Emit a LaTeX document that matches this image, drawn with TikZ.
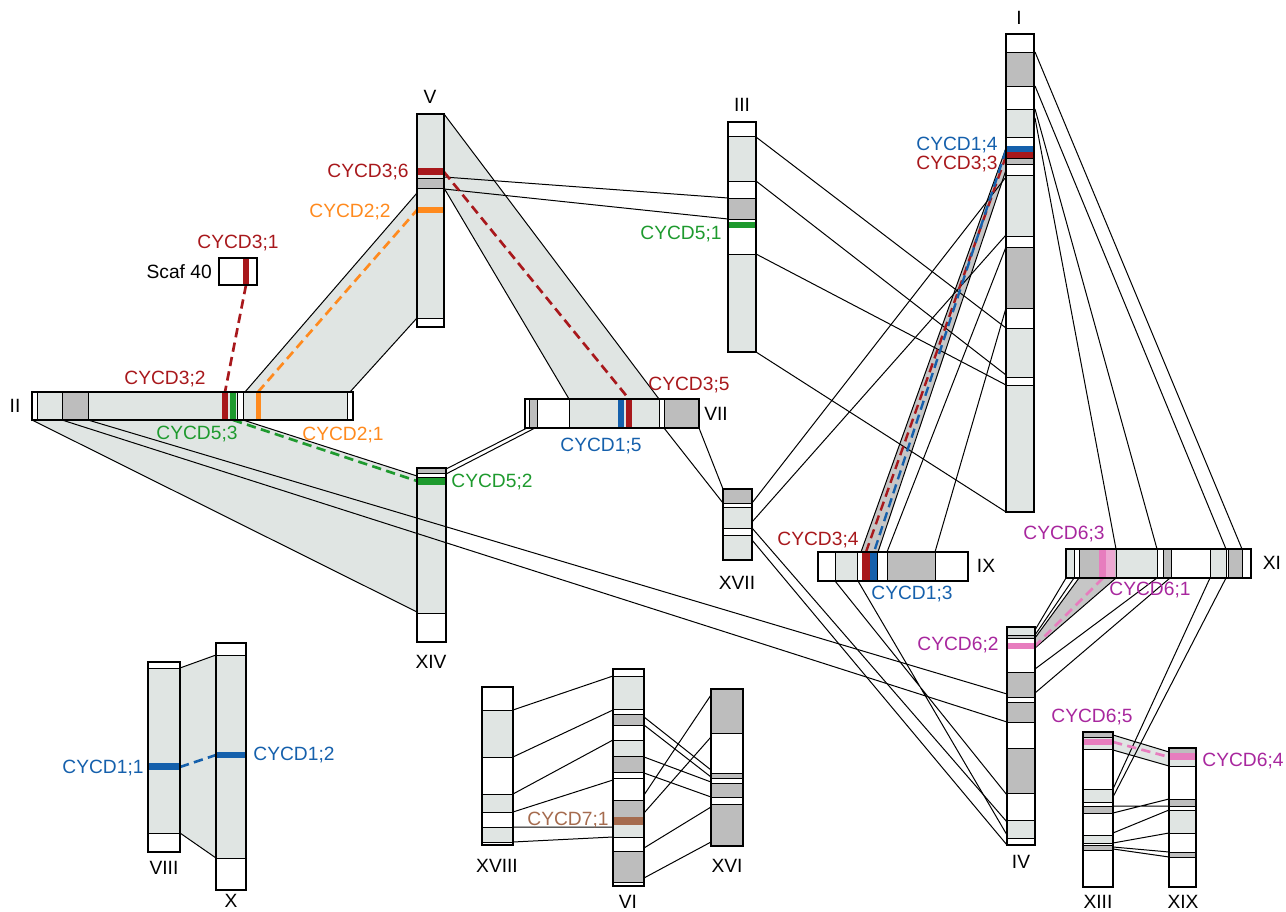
\documentclass[tikz,border=0pt]{standalone}
\usepackage{fontspec}
\setmainfont{Liberation Sans}
\definecolor{lt}{HTML}{E0E5E3}
\definecolor{dk}{HTML}{BDBDBD}
\definecolor{sh}{HTML}{C6C6C6}
\definecolor{cred}{HTML}{A8181C}
\definecolor{cblue}{HTML}{1560AC}
\definecolor{cgreen}{HTML}{1E9A2E}
\definecolor{corange}{HTML}{FF8A1E}
\definecolor{cmag}{HTML}{A8279E}
\definecolor{cpink}{HTML}{E77DBE}
\definecolor{clpink}{HTML}{EDA8D2}
\definecolor{cbrown}{HTML}{A56B4E}
% vertical / horizontal chromosome bands: lo/hi/colour
\newcommand\vchr[3]{\foreach \a/\b/\c in {#3}{\filldraw[bandline,fill=\c] (#1,\a) rectangle (#2,\b);}}
\newcommand\hchr[3]{\foreach \a/\b/\c in {#3}{\filldraw[bandline,fill=\c] (\a,#1) rectangle (\b,#2);}}
\begin{document}
\begin{tikzpicture}[x=0.75pt,y=-0.75pt,
  bandline/.style={draw=black,line width=0.6pt},
  chrline/.style={draw=black,line width=2.1pt},
  link/.style={draw=black,line width=0.75pt},
  block/.style={fill=lt,draw=none},
  block2/.style={fill=sh,draw=none},
  gene/.style={line width=2pt,dash pattern=on 7pt off 4pt},
  lab/.style={font=\fontsize{14.4}{16}\selectfont,inner sep=0pt},
]
\useasboundingbox (0,0) rectangle (1286,912);

% ---------- syntenic blocks ----------
\fill[block] (245,392) -- (350,392) -- (417,318) -- (417,193) -- cycle;
\draw[link] (245,392) -- (417,193) (350,392) -- (417,318);
\fill[block] (444,114) -- (659,399) -- (569,399) -- (444,188) -- cycle;
\draw[link] (444,114) -- (659,399) (444,188) -- (569,399);
\fill[block] (32,420) -- (243,420) -- (417,476) -- (417,612) -- cycle;
\draw[link] (243,420) -- (417,476) (32,420) -- (417,612);
\fill[block] (180,668) -- (216,655) -- (216,858) -- (180,833) -- cycle;
\draw[link] (180,668) -- (216,655) (180,833) -- (216,858);
\fill[block] (1113,735) -- (1169,752) -- (1169,766) -- (1113,750) -- cycle;
\draw[link] (1113,735) -- (1169,752) (1113,750) -- (1169,766);
\fill[block2] (1006,148) -- (1006,170) -- (878,552) -- (861,552) -- cycle;
\draw[link] (1006,148) -- (861,552) (1006,170) -- (878,552);
\fill[block2] (1079,578) -- (1116,578) -- (1035,648) -- (1035,638) -- cycle;
\draw[link] (1079,578) -- (1035,638) (1116,578) -- (1035,648);

% ---------- single links ----------
\draw[link] (444,177) -- (728,198) (444,189) -- (728,219);
\draw[link] (446,469) -- (527,428) (446,474) -- (535,428);
\draw[link] (664,428) -- (723,503) (699,428) -- (723,489);
\draw[link] (756,137) -- (1006,328) (756,181) -- (1006,375)
            (756,254) -- (1006,385) (756,352) -- (1006,512);
\draw[link] (752,503) -- (1006,177) (752,522) -- (1006,235);
\draw[link] (887,552) -- (1006,247) (935,552) -- (1006,308);
\draw[link] (752,528) -- (1007,822) (752,540) -- (1007,845);
\draw[link] (835,581) -- (1007,795) (858,581) -- (1007,835);
\draw[link] (1035,52) -- (1242,549) (1035,86) -- (1226,549)
            (1035,109) -- (1157,549) (1035,118) -- (1116,549);
\draw[link] (1066,578) -- (1035,630) (1074,578) -- (1035,635)
            (1157,578) -- (1035,669) (1170,578) -- (1035,693);
\draw[link] (1210,578) -- (1113,789) (1226,578) -- (1113,797);
\draw[link] (1113,806) -- (1169,806) (1113,813) -- (1169,799)
            (1113,833) -- (1169,810) (1113,843) -- (1169,833)
            (1113,847) -- (1169,852) (1113,849) -- (1169,857);
\draw[link] (513,710) -- (613,676) (513,757) -- (613,710)
            (513,794) -- (613,740) (513,812) -- (613,780)
            (513,827) -- (613,827) (513,842) -- (613,837);
\draw[link] (644,717) -- (711,770) (644,725) -- (711,777)
            (644,757) -- (711,782) (644,773) -- (711,797)
            (644,795) -- (711,695) (644,813) -- (711,737)
            (644,848) -- (711,807) (644,878) -- (711,842);

% ---------- paralogous gene pairs ----------
\draw[gene,cred] (246,285) -- (225,392);
\draw[gene,corange] (258,392) -- (417,210);
\draw[gene,cgreen] (233,420) -- (417,481);
\draw[gene,cred] (444,172) -- (629,399);
\draw[gene,cred,line width=1.8pt] (1006,156) -- (866,552);
\draw[gene,cblue,line width=1.8pt] (1006,150) -- (874,552);
\draw[gene,cpink] (1103,578) -- (1035,646);
\draw[gene,cpink] (1113,742) -- (1169,757);
\draw[gene,cblue] (180,767) -- (216,755);

% ---------- chromosomes ----------
% I
\vchr{1006}{1034}{34/52/white,52/86/dk,86/109/white,109/137/lt,137/158/white,158/164/dk,164/175/white,175/236/lt,236/247/white,247/308/dk,308/328/white,328/377/lt,377/385/white,385/512/lt}
\fill[cblue] (1006,146) rectangle (1034,152);
\fill[cred] (1006,152) rectangle (1034,158);
\draw[chrline] (1006,34) rectangle (1034,512);
% V
\vchr{417}{444}{114/178/lt,178/188/dk,188/318/lt,318/327/white}
\fill[cred] (417,168) rectangle (444,175);
\fill[corange] (417,207) rectangle (444,213);
\draw[chrline] (417,114) rectangle (444,327);
% III
\vchr{728}{756}{122/136/white,136/181/lt,181/198/white,198/219/dk,219/254/white,254/352/lt}
\fill[cgreen] (728,222) rectangle (756,228);
\draw[chrline] (728,122) rectangle (756,352);
% VII
\hchr{399}{428}{525/529/white,529/537/dk,537/569/white,569/659/lt,659/664/white,664/699/dk}
\fill[cblue] (618,399) rectangle (624,428);
\fill[cred] (626,399) rectangle (632,428);
\draw[chrline] (525,399) rectangle (699,428);
% II
\hchr{392}{420}{32/37/white,37/62/lt,62/88/dk,88/237/lt,237/243/white,243/347/lt,347/353/white}
\fill[cred] (222,392) rectangle (228,420);
\fill[cgreen] (230,392) rectangle (236,420);
\fill[corange] (256,392) rectangle (261,420);
\draw[chrline] (32,392) rectangle (353,420);
% Scaffold 40
\fill[white] (219,258) rectangle (257,285);
\fill[cred] (243,258) rectangle (249,285);
\draw[chrline] (219,258) rectangle (257,285);
% XIV
\vchr{417}{446}{468/473/dk,473/477/white,477/613/lt,613/642/white}
\fill[cgreen] (417,478) rectangle (446,485);
\draw[chrline] (417,468) rectangle (446,642);
% XVII
\vchr{723}{752}{489/503/dk,503/507/white,507/528/lt,528/535/white,535/560/lt}
\draw[chrline] (723,489) rectangle (752,560);
% IX
\hchr{552}{581}{818/835/white,835/857/lt,857/862/white,862/877/lt,877/887/white,887/935/dk,935/968/white}
\fill[cred] (862,552) rectangle (870,581);
\fill[cblue] (870,552) rectangle (877,581);
\draw[chrline] (818,552) rectangle (968,581);
% XI
\hchr{549}{578}{1066/1074/lt,1074/1079/white,1079/1116/dk,1116/1157/lt,1157/1163/white,1163/1171/dk,1171/1210/white,1210/1226/lt,1226/1228/white,1228/1242/dk,1242/1251/white}
\fill[cpink] (1099,549) rectangle (1106,578);
\fill[clpink] (1106,549) rectangle (1115,578);
\draw[chrline] (1066,549) rectangle (1251,578);
% IV
\vchr{1007}{1035}{627/635/lt,635/638/dk,638/648/white,648/672/white,672/697/dk,697/702/white,702/722/dk,722/748/white,748/793/dk,793/820/white,820/838/lt,838/845/white}
\fill[cpink] (1007,643) rectangle (1035,649);
\draw[chrline] (1007,627) rectangle (1035,845);
% XIII
\vchr{1083}{1113}{732/737/dk,737/749/lt,749/789/white,789/802/lt,802/806/white,806/813/dk,813/835/white,835/843/lt,843/845/white,845/850/dk,850/887/white}
\fill[cpink] (1083,739) rectangle (1113,745);
\draw[chrline] (1083,732) rectangle (1113,887);
% XIX
\vchr{1169}{1196}{748/753/dk,753/766/lt,766/799/white,799/806/dk,806/810/white,810/833/lt,833/852/white,852/857/dk,857/887/white}
\fill[cpink] (1169,753) rectangle (1196,760);
\draw[chrline] (1169,748) rectangle (1196,887);
% XVIII
\vchr{482}{513}{687/710/white,710/757/lt,757/794/white,794/812/lt,812/827/white,827/842/lt,842/845/white}
\draw[chrline] (482,687) rectangle (513,845);
% VI
\vchr{613}{644}{669/676/white,676/709/lt,709/714/white,714/725/dk,725/740/white,740/756/lt,756/772/dk,772/778/white,778/800/white,800/817/dk,817/837/lt,837/851/white,851/882/dk,882/886/white}
\fill[cbrown] (613,817) rectangle (644,825);
\draw[chrline] (613,669) rectangle (644,886);
% XVI
\vchr{711}{743}{689/733/dk,733/773/white,773/778/dk,778/783/white,783/797/dk,797/804/white,804/846/dk}
\draw[chrline] (711,689) rectangle (743,846);
% VIII
\vchr{148}{180}{662/668/white,668/833/lt,833/852/white}
\fill[cblue] (148,763) rectangle (180,770);
\draw[chrline] (148,662) rectangle (180,852);
% X
\vchr{216}{246}{643/655/white,655/858/lt,858/890/white}
\fill[cblue] (216,752) rectangle (246,758);
\draw[chrline] (216,643) rectangle (246,890);

% links from II to IV run across XIV
\draw[link] (88,420) -- (1007,694) (62,420) -- (1007,722);

% ---------- chromosome names ----------
\node[lab] (nI) at (1019,18) {I};
\node[lab] (nII) at (15,406) {II};
\node[lab] (nIII) at (742,105) {III};
\node[lab] (nIV) at (1021,862) {IV};
\node[lab] (nV) at (430,97) {V};
\node[lab] (nVI) at (628,902) {VI};
\node[lab] (nVII) at (716,414) {VII};
\node[lab] (nVIII) at (164,868) {VIII};
\node[lab] (nIX) at (986,566) {IX};
\node[lab] (nX) at (231,901) {X};
\node[lab] (nXI) at (1272,563) {XI};
\node[lab] (nXIII) at (1098,902) {XIII};
\node[lab] (nXIV) at (431,662) {XIV};
\node[lab] (nXVI) at (727,866) {XVI};
\node[lab] (nXVII) at (737,583) {XVII};
\node[lab] (nXVIII) at (497,866) {XVIII};
\node[lab] (nXIX) at (1183,902) {XIX};
\node[lab,anchor=east] (nScaf) at (212,272) {Scaf 40};

% ---------- gene names ----------
\node[lab,cred] (g31) at (238,243) {CYCD3;1};
\node[lab,cred] (g32) at (165,379) {CYCD3;2};
\node[lab,cred] (g33) at (957,164.5) {CYCD3;3};
\node[lab,cred] (g34) at (818,540) {CYCD3;4};
\node[lab,cred] (g35) at (689,385) {CYCD3;5};
\node[lab,cred] (g36) at (368,172) {CYCD3;6};
\node[lab,cgreen] (g51) at (681,234) {CYCD5;1};
\node[lab,cgreen] (g52) at (492,482) {CYCD5;2};
\node[lab,cgreen] (g53) at (197,434) {CYCD5;3};
\node[lab,corange] (g21) at (343,435) {CYCD2;1};
\node[lab,corange] (g22) at (350,212) {CYCD2;2};
\node[lab,cblue] (g11) at (103,768) {CYCD1;1};
\node[lab,cblue] (g12) at (294,755) {CYCD1;2};
\node[lab,cblue] (g13) at (912,594) {CYCD1;3};
\node[lab,cblue] (g14) at (957,145.5) {CYCD1;4};
\node[lab,cblue] (g15) at (601,446) {CYCD1;5};
\node[lab,cmag] (g61) at (1150,590) {CYCD6;1};
\node[lab,cmag] (g62) at (958,645) {CYCD6;2};
\node[lab,cmag] (g63) at (1064,534) {CYCD6;3};
\node[lab,cmag] (g64) at (1243,761) {CYCD6;4};
\node[lab,cmag] (g65) at (1092,717) {CYCD6;5};
\node[lab,cbrown] (g71) at (568,820) {CYCD7;1};
\end{tikzpicture}
\end{document}
